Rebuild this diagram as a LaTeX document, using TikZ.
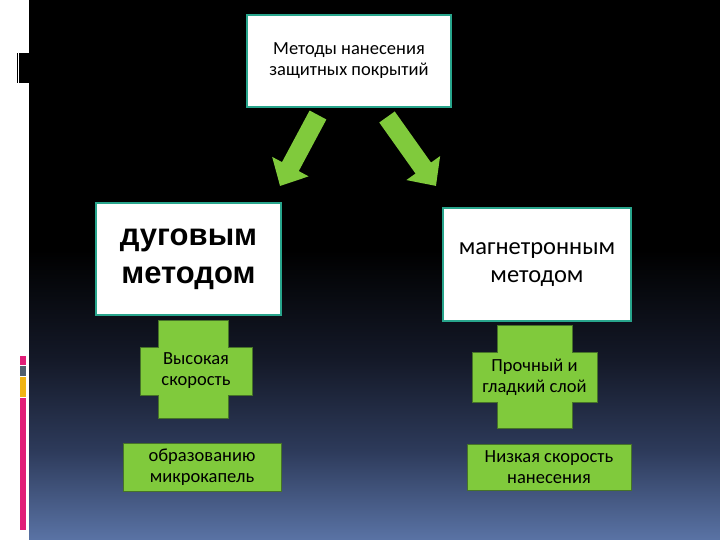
\documentclass[tikz,border=0pt]{standalone}
\usepackage{fontspec}
\setmainfont{Carlito}
\newfontfamily\arialfont{Liberation Sans}
\usetikzlibrary{arrows.meta}
\definecolor{gfill}{RGB}{128,202,60}
\definecolor{gline}{RGB}{70,115,40}
\definecolor{tealb}{RGB}{40,165,140}
\definecolor{bgA}{RGB}{90,115,165}
\definecolor{bgB}{RGB}{45,58,90}
\definecolor{bgC}{RGB}{20,25,40}
\definecolor{magA}{RGB}{225,30,120}
\definecolor{greyA}{RGB}{80,95,110}
\definecolor{yelA}{RGB}{240,180,20}
\pgfdeclareverticalshading{bgshade}{100bp}{color(0bp)=(bgA); color(25bp)=(bgA); color(33.33bp)=(bgB); color(41.67bp)=(bgC); color(51.85bp)=(black); color(100bp)=(black)}
\begin{document}
\begin{tikzpicture}[x=1pt,y=-1pt,
  wbox/.style={draw=tealb, line width=1.5pt, fill=white, inner sep=0pt, align=center},
  gtext/.style={align=center, inner sep=0pt, font=\fontsize{18.5}{21}\selectfont},
  gshape/.style={fill=gfill, draw=gline, line width=1pt},
  garrow/.style={draw=gfill, line width=19pt, -{Triangle[width=40pt,length=22pt]}}
]
\useasboundingbox (0,0) rectangle (720,540);
% background
\fill[white] (0,0) rectangle (29,540);
\shade[shading=bgshade] (29,0) rectangle (720,540);
% left decorations
\fill[black] (16.5,53) rectangle (18,83);
\fill[black] (19,53) rectangle (29,83);
\fill[magA] (20,356) rectangle (26,365);
\fill[greyA] (20,366) rectangle (26,376);
\fill[yelA] (20,377) rectangle (26,397);
\fill[magA] (20,398) rectangle (26,530);
% boxes
\node[wbox, minimum width=204, minimum height=92, font=\fontsize{18.5}{21}\selectfont] (top) at (349,61) {Методы нанесения\\защитных покрытий};
\node[wbox, minimum width=185, minimum height=112, font=\arialfont\bfseries\fontsize{31}{38}\selectfont] (dug) at (188.5,259) {дуговым\\методом};
\node[wbox, minimum width=188, minimum height=113, font=\fontsize{24.5}{28}\selectfont] (mag) at (537,264.5) {магнетронным\\методом};
% arrows
\coordinate (la1) at (318,115);
\coordinate (la2) at (280,186);
\coordinate (ra1) at (387,117);
\coordinate (ra2) at (436,186);
\draw[garrow] (la1) -- (la2);
\draw[garrow] (ra1) -- (ra2);
% left cross
\path[gshape] (158,320) -- (228,320) -- (228,347) -- (252,347) -- (252,395) -- (228,395) -- (228,418) -- (158,418) -- (158,395) -- (140,395) -- (140,347) -- (158,347) -- cycle;
\node[gtext] (hs) at (196,371) {Высокая\\скорость};
% right cross
\path[gshape] (497,325) -- (572,325) -- (572,352) -- (597,352) -- (597,402) -- (572,402) -- (572,428) -- (497,428) -- (497,402) -- (472,402) -- (472,352) -- (497,352) -- cycle;
\node[gtext] (ps) at (534.5,377) {Прочный и\\гладкий слой};
% bottom rects
\node[gshape, gtext, minimum width=158, minimum height=48] (obr) at (202,467) {образованию\\микрокапель};
\node[gshape, gtext, minimum width=164, minimum height=46] (nsk) at (549,467) {Низкая скорость\\нанесения};
\end{tikzpicture}
\end{document}
